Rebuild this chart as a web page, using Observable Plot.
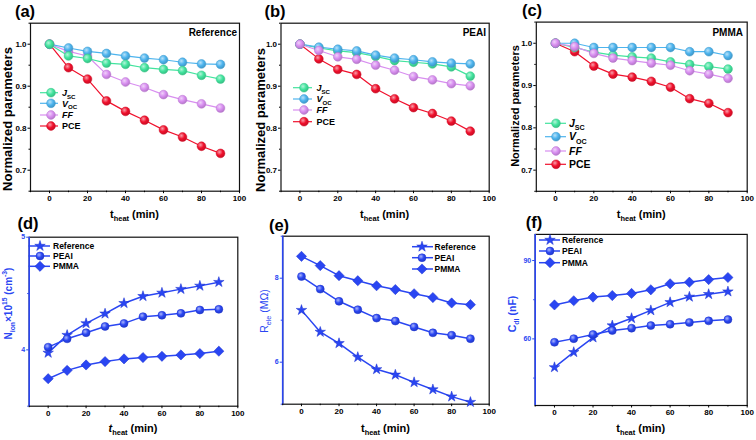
<!DOCTYPE html>
<html><head><meta charset="utf-8">
<script src="https://cdn.jsdelivr.net/npm/d3@7"></script>
<script src="https://cdn.jsdelivr.net/npm/@observablehq/plot@0.6"></script>
<style>
body{margin:0;background:#fff;}
#root{position:relative;width:756px;height:440px;overflow:hidden;background:#fff;}
#root svg{position:absolute;overflow:visible;}
</style></head><body><div id="root"></div>
<script>
// ---------- data ----------
const theat = [0,10,20,30,40,50,60,70,80,90];
const xMajor = [0,20,40,60,80,100];
const xMinor = [-10,10,30,50,70,90];

// (a) Reference
const jscA = [1.000,0.972,0.966,0.955,0.952,0.944,0.940,0.937,0.926,0.917];
const vocA = [1.000,0.991,0.983,0.978,0.972,0.967,0.963,0.957,0.953,0.952];
const ffA  = [1.000,0.983,0.972,0.928,0.910,0.897,0.880,0.868,0.858,0.848];
const pceA = [1.000,0.944,0.917,0.865,0.840,0.819,0.796,0.779,0.757,0.740];
// (b) PEAI
const jscB = [1.000,0.991,0.984,0.980,0.971,0.961,0.957,0.953,0.946,0.924];
const vocB = [1.000,0.993,0.988,0.984,0.974,0.967,0.963,0.958,0.955,0.953];
const ffB  = [1.000,0.985,0.970,0.964,0.950,0.938,0.923,0.915,0.906,0.901];
const pceB = [1.000,0.965,0.940,0.928,0.894,0.870,0.849,0.835,0.817,0.793];
// (c) PMMA
const jscC = [1.000,0.990,0.979,0.972,0.968,0.965,0.956,0.950,0.945,0.939];
const vocC = [1.000,1.000,0.990,0.990,0.990,0.990,0.990,0.980,0.980,0.971];
const ffC  = [1.000,0.992,0.976,0.965,0.959,0.953,0.948,0.935,0.927,0.917];
const pceC = [1.000,0.980,0.946,0.927,0.920,0.910,0.896,0.869,0.858,0.836];
// (d) N_ion x 1e15
const nRef  = [3.973,4.131,4.235,4.321,4.414,4.476,4.506,4.539,4.568,4.601];
const nPeai = [4.024,4.098,4.152,4.208,4.235,4.295,4.307,4.324,4.354,4.360];
const nPmma = [3.744,3.818,3.866,3.896,3.920,3.932,3.943,3.955,3.967,3.988];
// (e) R_ele (MOhm)
const rRef  = [7.24,6.72,6.45,6.12,5.83,5.70,5.52,5.35,5.18,5.05];
const rPeai = [8.04,7.74,7.45,7.25,7.05,6.98,6.84,6.70,6.64,6.56];
const rPmma = [8.52,8.30,8.06,7.94,7.82,7.73,7.63,7.54,7.41,7.37];
// (f) C_dl (nF)
const cRef  = [49.1,54.9,60.5,65.1,67.9,70.9,74.0,76.1,77.1,78.1];
const cPeai = [58.7,60.1,61.7,63.2,64.1,65.1,65.6,66.3,66.9,67.4];
const cPmma = [73.0,74.6,76.0,76.6,77.4,78.8,81.1,81.7,82.7,83.5];

const paramNames = ["Jsc","Voc","FF","PCE"];
const sampleNames = ["Reference","PEAI","PMMA"];

// ---------- style ----------
const FONT = "'Liberation Sans', Arial, sans-serif";
const BLUE = "#2a46f2";
const COL = {Jsc:"#42e49e", Voc:"#4db4ee", FF:"#d88ef0", PCE:"#f0102c"};

const root = d3.select("#root");
const defs = root.append("svg").attr("width",0).attr("height",0).append("defs");
function grad(id, c) {
  const g = defs.append("radialGradient").attr("id", id).attr("cx","38%").attr("cy","35%").attr("r","65%");
  g.append("stop").attr("offset","0%").attr("stop-color", d3.interpolateRgb(c,"#fff")(0.6));
  g.append("stop").attr("offset","55%").attr("stop-color", c);
  g.append("stop").attr("offset","100%").attr("stop-color", d3.color(c).darker(0.5).formatHex());
}
for (const k of paramNames) grad("g"+k, COL[k]);
grad("gBlue", BLUE);

function rich(sel, x, y, parts, o) {
  const t = sel.append("text").attr("font-family",FONT).attr("font-size",o.size)
    .attr("font-weight",o.weight||"bold").attr("fill",o.color||"#000")
    .attr("text-anchor",o.anchor||"start");
  if (o.rotate) t.attr("transform",`translate(${x},${y}) rotate(${o.rotate})`);
  else t.attr("x",x).attr("y",y);
  let shift = 0;
  for (const p of parts) {
    const target = p.sub ? o.size*0.3 : p.sup ? -o.size*0.42 : 0;
    const ts = t.append("tspan").text(p.t).attr("dy", target - shift);
    if (p.sub || p.sup) ts.attr("font-size", o.size*0.68);
    if (p.i) ts.attr("font-style","italic");
    shift = target;
  }
  return t;
}

const symPath = (sym, r) => d3.symbol(sym, Math.PI*r*r)();
const SYM = {star: d3.symbolStar, circle: d3.symbolCircle, diamond2: d3.symbolDiamond2};

function panel(p) {
  const {cell, frame} = p;
  const marks = [Plot.frame({stroke:"#111", strokeWidth:1.2})];
  if (p.spine) marks.push(Plot.ruleX([-10], {stroke:p.spine, strokeWidth:1.6}));
  marks.push(Plot.axisX({ticks:xMajor, tickSize:2.5, tickPadding:1.5, fontSize:8, label:null, tickFormat:d=>String(d)}));
  marks.push(Plot.axisX({ticks:xMinor, tickSize:1.5, tickFormat:()=>"", label:null}));
  marks.push(Plot.axisY({ticks:p.yMajor, tickSize:2.5, tickPadding:1.5, fontSize:p.yFont, label:null, tickFormat:p.yFmt, color:p.axisColor}));
  marks.push(Plot.axisY({ticks:p.yMinor, tickSize:1.5, tickFormat:()=>"", label:null, color:p.axisColor}));
  for (const s of p.series) {
    const data = theat.map((t,i)=>({t, v:s.values[i]}));
    marks.push(Plot.line(data,{x:"t", y:"v", stroke:s.color, strokeWidth:s.lw}));
  }
  for (const s of p.series) {
    const data = theat.map((t,i)=>({t, v:s.values[i]}));
    marks.push(Plot.dot(data,{x:"t", y:"v", r:s.r, symbol:s.symbol, fill:s.fill, stroke:s.stroke, strokeWidth:0.5}));
  }
  const svg = Plot.plot({
    width: cell.w, height: cell.h,
    marginLeft: frame.l-cell.x, marginRight: cell.x+cell.w-frame.r,
    marginTop: frame.t-cell.y, marginBottom: cell.y+cell.h-frame.b,
    x: {domain:[-10,100]}, y: {domain:p.yDomain},
    style: {fontFamily:FONT, fontWeight:"bold", background:"transparent", overflow:"visible", color:"#000"},
    marks
  });
  d3.select(svg).style("left", cell.x+"px").style("top", cell.y+"px");
  root.node().appendChild(svg);
  const g = d3.select(svg).append("g").attr("transform",`translate(${-cell.x},${-cell.y})`);
  // panel letter
  g.append("text").attr("x",p.letter.x).attr("y",p.letter.y).attr("font-family",FONT)
    .attr("font-size",16.5).attr("font-weight","bold").text(p.letter.t);
  // axis titles
  const cx = (frame.l+frame.r)/2;
  rich(g, cx, p.xTitleY, [{t:"t", i:p.xItalic},{t:"heat",sub:1},{t:" (min)"}], {size:11, anchor:"middle"});
  rich(g, p.yTitle.x, p.yTitle.y, p.yTitle.parts, {size:p.yTitle.size, anchor:"middle", rotate:-90, color:p.yTitle.color, weight:p.yTitle.weight});
  // header
  if (p.header) g.append("text").attr("x",p.header.x).attr("y",p.header.y).attr("text-anchor","end")
    .attr("font-family",FONT).attr("font-size",10).attr("font-weight","bold").text(p.header.t);
  // legend
  const L = p.legend;
  p.series.slice().sort((a,b)=>a.order-b.order).forEach((s,i)=>{
    const y = L.ys[i];
    g.append("line").attr("x1",L.x1).attr("x2",L.x2).attr("y1",y).attr("y2",y).attr("stroke",s.color).attr("stroke-width",s.lw);
    g.append("path").attr("d",symPath(SYM[s.symbol], s.r)).attr("transform",`translate(${L.xm},${y})`)
      .attr("fill",s.fill).attr("stroke",s.stroke).attr("stroke-width",0.5);
    rich(g, L.xt, y + L.size*0.36, s.label, {size:L.size});
  });
}

const topSeries = (jsc, voc, ff, pce, order) => {
  const all = {
    Jsc:{values:jsc, label:[{t:"J",i:1},{t:"SC",sub:1}], order:0},
    Voc:{values:voc, label:[{t:"V",i:1},{t:"OC",sub:1}], order:1},
    FF:{values:ff, label:[{t:"FF",i:1}], order:2},
    PCE:{values:pce, label:[{t:"PCE"}], order:3}
  };
  return order.map(k=>({...all[k], color:COL[k], fill:`url(#g${k})`, stroke:d3.color(COL[k]).darker(0.4).formatHex(), r:4.4, symbol:"circle", lw:1.2}));
};
const botSeries = (ref, peai, pmma) => [
  {values:ref, label:[{t:"Reference"}], order:0, symbol:"star", r:3.3},
  {values:peai, label:[{t:"PEAI"}], order:1, symbol:"circle", r:4.0},
  {values:pmma, label:[{t:"PMMA"}], order:2, symbol:"diamond2", r:4.6}
].map(s=>({...s, color:BLUE, fill:s.symbol==="circle"?"url(#gBlue)":BLUE, stroke:"#1a30d0", lw:1.5}));

const normTitle = (x, y, size) => ({x, y, size, parts:[{t:"Normalized parameters"}], color:"#000", weight:"bold"});
const topY = {yDomain:[0.65,1.05], yMajor:[0.7,0.8,0.9,1.0], yMinor:[0.65,0.75,0.85,0.95,1.05], yFmt:d3.format(".1f"), yFont:8, axisColor:"#000", xTitleY:218, xItalic:false};

panel({...topY, cell:{x:0,y:0,w:252,h:226}, frame:{l:30,r:239,t:22.7,b:190.7},
  series: topSeries(jscA,vocA,ffA,pceA,["PCE","FF","Voc","Jsc"]),
  letter:{t:"(a)",x:25,y:16.6}, header:{t:"Reference",x:237,y:36},
  yTitle: normTitle(12,119,13),
  legend:{x1:40,x2:58,xm:51,xt:62,ys:[92.7,103.3,115,126],size:9}});

panel({...topY, cell:{x:252,y:0,w:252,h:226}, frame:{l:280.5,r:488.7,t:22.7,b:190.7},
  series: topSeries(jscB,vocB,ffB,pceB,["PCE","Jsc","Voc","FF"]),
  letter:{t:"(b)",x:275,y:16.6}, header:{t:"PEAI",x:486,y:36},
  yTitle: normTitle(264.5,120,13),
  legend:{x1:293,x2:312,xm:304,xt:316.5,ys:[87.7,99,110,121.7],size:9}});

panel({...topY, cell:{x:504,y:0,w:252,h:226}, frame:{l:535.8,r:746.7,t:21.6,b:190.8},
  series: topSeries(jscC,vocC,ffC,pceC,["PCE","Jsc","Voc","FF"]),
  letter:{t:"(c)",x:532,y:16},  header:{t:"PMMA",x:743,y:36},
  yTitle: normTitle(519,106,11),
  legend:{x1:545,x2:566,xm:556,xt:569,ys:[123.3,136.7,151,164.3],size:10.5}});

const botCommon = {axisColor:BLUE, spine:BLUE, yFont:7, xTitleY:432};

panel({...botCommon, cell:{x:0,y:210,w:252,h:230}, frame:{l:28.7,r:237.3,t:236.7,b:405.7},
  yDomain:[3.5,5], yMajor:[4,5], yMinor:[3.5,4.5], yFmt:d3.format("d"), xItalic:true,
  series: botSeries(nRef,nPeai,nPmma),
  letter:{t:"(d)",x:28,y:229},
  yTitle:{x:11.5,y:303.5,size:10,color:BLUE,weight:"bold",parts:[{t:"N"},{t:"ion",sub:1},{t:"×10"},{t:"15",sup:1},{t:" (cm"},{t:"-3",sup:1},{t:")"}]},
  legend:{x1:28.5,x2:50,xm:40,xt:53,ys:[246,256,266.3],size:8.5}});

panel({...botCommon, cell:{x:252,y:210,w:252,h:230}, frame:{l:282.2,r:488.7,t:235.7,b:403.7},
  yDomain:[5,9], yMajor:[6,8], yMinor:[5,7,9], yFmt:d3.format("d"), xItalic:false,
  series: botSeries(rRef,rPeai,rPmma),
  letter:{t:"(e)",x:279,y:231},
  yTitle:{x:267.5,y:311,size:10.5,color:BLUE,weight:"normal",parts:[{t:"R"},{t:"ele",sub:1},{t:" (MΩ)"}]},
  legend:{x1:412,x2:433,xm:422,xt:434.5,ys:[246.7,257.7,269],size:8.5}});

panel({...botCommon, cell:{x:504,y:210,w:252,h:230}, frame:{l:534.7,r:746.7,t:233.9,b:405},
  yDomain:[34.5,100], yMajor:[60,90], yMinor:[45,75], yFmt:d3.format("d"), xItalic:false,
  series: botSeries(cRef,cPeai,cPmma),
  letter:{t:"(f)",x:534,y:228},
  yTitle:{x:515.5,y:314,size:10.5,color:BLUE,weight:"bold",parts:[{t:"C"},{t:"dl",sub:1},{t:" (nF)"}]},
  legend:{x1:539,x2:560,xm:550,xt:562,ys:[240,251,262.7],size:8.5}});
</script>
</body></html>
